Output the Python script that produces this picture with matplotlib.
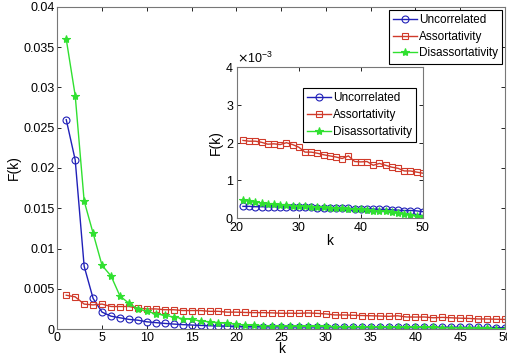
import numpy as np
import matplotlib
matplotlib.use("Agg")
import matplotlib.pyplot as plt
from matplotlib.ticker import ScalarFormatter

k = np.arange(1, 51)

uncorrelated = [0.026, 0.021, 0.0078, 0.0038, 0.0021, 0.0016, 0.0014, 0.0012, 0.0011, 0.0009,
                0.0008, 0.0007, 0.00062, 0.00055, 0.0005, 0.00045, 0.00041, 0.00038, 0.00035, 0.00033,
                0.00031, 0.00031, 0.0003, 0.0003, 0.0003, 0.0003, 0.00029, 0.00029, 0.00029, 0.00028,
                0.00028, 0.00028, 0.00027, 0.00027, 0.00027, 0.00026, 0.00026, 0.00026, 0.00025, 0.00025,
                0.00024, 0.00024, 0.00023, 0.00023, 0.00022, 0.00021, 0.0002, 0.0002, 0.00019, 0.00017]

assortativity = [0.0042, 0.0040, 0.0031, 0.0030, 0.0031, 0.0028, 0.0028, 0.0028, 0.0026, 0.0025,
                 0.0025, 0.0024, 0.0024, 0.0023, 0.0023, 0.0023, 0.0022, 0.0022, 0.0021, 0.0021,
                 0.00206, 0.00204, 0.00204, 0.00201, 0.00196, 0.00197, 0.00195, 0.002, 0.00195, 0.00188,
                 0.00175, 0.00175, 0.00172, 0.00168, 0.00165, 0.00162, 0.00158, 0.00165, 0.0015, 0.00149,
                 0.0015, 0.0014, 0.00145, 0.0014, 0.00135, 0.00132, 0.00125, 0.00125, 0.00122, 0.00119]

disassortativity = [0.036, 0.029, 0.0159, 0.0119, 0.0079, 0.0066, 0.0041, 0.0032, 0.0025, 0.0022,
                    0.0019, 0.0017, 0.0015, 0.0013, 0.0012, 0.001, 0.0009, 0.0008, 0.0007, 0.0006,
                    0.00049, 0.00046, 0.00043, 0.0004, 0.00038, 0.00037, 0.00035, 0.00034, 0.00033, 0.00032,
                    0.00031, 0.0003, 0.00029, 0.00028, 0.00027, 0.00027, 0.00026, 0.00025, 0.00024, 0.00023,
                    0.00022, 0.0002, 0.00019, 0.00018, 0.00016, 0.00014, 0.00011, 0.00008, 0.00005, 0.00003]

labels = ["Uncorrelated", "Assortativity", "Disassortativity"]
colors = ["#2020b8", "#d03a2a", "#30e030"]

plt.rcParams['font.family'] = ['Liberation Sans', 'DejaVu Sans']

fig = plt.figure(figsize=(5.07, 3.64), dpi=100)
ax = fig.add_axes([0.113, 0.096, 0.883, 0.885])


def draw(ax, kk, sl):
    ax.plot(kk, np.array(uncorrelated)[sl], '-o', color=colors[0], mfc='none', ms=5, lw=1, mew=0.8, label=labels[0])
    ax.plot(kk, np.array(assortativity)[sl], '-s', color=colors[1], mfc='none', ms=5, lw=1, mew=0.8, label=labels[1])
    ax.plot(kk, np.array(disassortativity)[sl], '-*', color=colors[2], ms=6, lw=1, mew=0.8, label=labels[2])


def style(ax, fs):
    ax.tick_params(direction='in', top=True, right=True, labelsize=fs, length=3, width=0.6, pad=2)
    for s in ax.spines.values():
        s.set_color('#777777')
        s.set_linewidth(0.8)


def legend(ax, **kw):
    leg = ax.legend(fontsize=8.5, handlelength=2.0, borderpad=0.35, labelspacing=0.4,
                    handletextpad=0.2, fancybox=False, framealpha=1, **kw)
    leg.get_frame().set_edgecolor('black')
    leg.get_frame().set_linewidth(0.8)


draw(ax, k, slice(0, 50))
ax.set_xlim(0, 50)
ax.set_ylim(0, 0.04)
ax.set_xticks(np.arange(0, 51, 5))
ax.set_yticks(np.arange(0, 0.0401, 0.005))
ax.set_yticklabels(['0', '0.005', '0.01', '0.015', '0.02', '0.025', '0.03', '0.035', '0.04'])
style(ax, 9)
ax.set_xlabel('k', fontsize=10, labelpad=-1)
ax.set_ylabel('F(k)', fontsize=10, labelpad=2)
legend(ax, loc='upper right', borderaxespad=0.25)

ins = fig.add_axes([0.467, 0.401, 0.367, 0.414])
draw(ins, k[20:], slice(20, 50))
ins.set_xlim(20, 50)
ins.set_ylim(0, 0.004)
ins.set_xticks([20, 30, 40, 50])
ins.set_yticks([0, 0.001, 0.002, 0.003, 0.004])
fmt = ScalarFormatter(useMathText=True)
fmt.set_powerlimits((-3, -3))
ins.yaxis.set_major_formatter(fmt)
ins.yaxis.get_offset_text().set_fontsize(9)
style(ins, 9)
ins.tick_params(axis='x', pad=3)
ins.set_xlabel('k', fontsize=10, labelpad=0)
ins.set_ylabel('F(k)', fontsize=10, labelpad=2)
legend(ins, loc='upper right', bbox_to_anchor=(0.995, 0.9))

fig.savefig('out.png', dpi=100)
